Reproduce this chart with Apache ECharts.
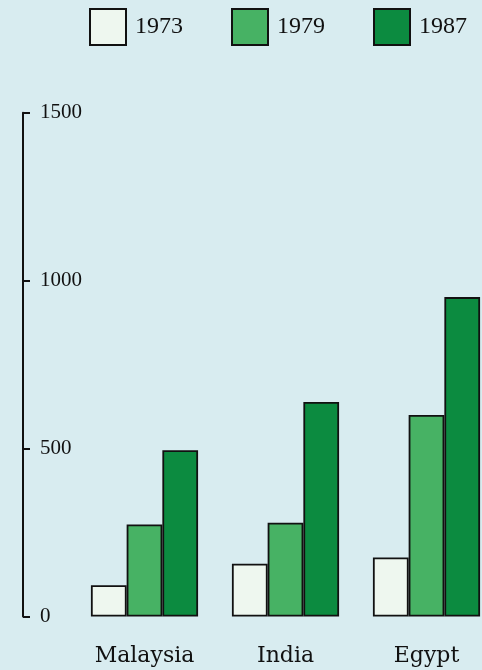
<!DOCTYPE html>
<html>
<head>
<meta charset="utf-8">
<script src="https://cdn.jsdelivr.net/npm/echarts@6/dist/echarts.min.js"></script>
<style>
  html, body { margin: 0; padding: 0; background: #d8ecf0; overflow: hidden; }
  /* the drawing is a little wider than the window so the last group runs to the edge */
  #chart { width: 500px; height: 670px; }
</style>
</head>
<body>
<div id="chart"></div>
<script>
// Countries on the category axis
const countries = ['Malaysia', 'India', 'Egypt'];
// One series per year
const years = ['1973', '1979', '1987'];
const values1973 = [93, 157, 176];
const values1979 = [274, 279, 600];
const values1987 = [495, 639, 951];
// Value axis ticks
const yTicks = [0, 500, 1000, 1500];

const fills = ['#eef7ef', '#47b264', '#0c8b40'];
const seriesValues = [values1973, values1979, values1987];

const chart = echarts.init(document.getElementById('chart'), null, { renderer: 'canvas' });

chart.setOption({
  backgroundColor: '#d8ecf0',
  animation: false,
  legend: {
    left: 89,
    top: 8,
    padding: 0,
    itemWidth: 36,
    itemHeight: 36,
    itemGap: 48,
    icon: 'rect',
    textStyle: { fontFamily: 'Liberation Serif', fontSize: 24, color: '#111', padding: [0, 0, 0, 4] },
    data: years
  },
  grid: { left: 74, right: 3, top: 112.7, bottom: 53.5, containLabel: false },
  xAxis: {
    type: 'category',
    data: countries,
    axisLine: { show: false },
    axisTick: { show: false },
    axisLabel: {
      margin: 29,
      fontFamily: 'DejaVu Serif',
      fontSize: 22,
      color: '#111'
    }
  },
  yAxis: {
    type: 'value',
    min: yTicks[0],
    max: yTicks[yTicks.length - 1],
    interval: 500,
    offset: 51,
    axisLine: { show: true, lineStyle: { color: '#111', width: 2 } },
    axisTick: { show: true, inside: true, length: 7, lineStyle: { color: '#111', width: 2 } },
    axisLabel: {
      inside: true,
      margin: 17,
      fontFamily: 'Liberation Serif',
      fontSize: 21,
      color: '#111',
      formatter: v => String(v)
    },
    splitLine: { show: false }
  },
  series: years.map((y, i) => ({
    name: y,
    type: 'bar',
    data: seriesValues[i],
    barGap: '0%',
    barCategoryGap: '24%',
    itemStyle: { color: fills[i], borderColor: '#111', borderWidth: 1.8 }
  }))
});
</script>
</body>
</html>
